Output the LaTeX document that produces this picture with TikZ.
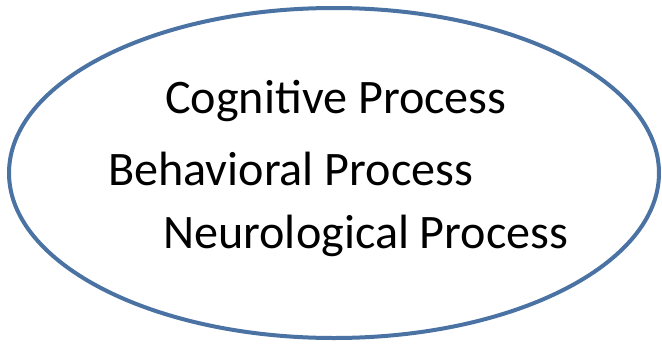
\documentclass[tikz,border=0pt]{standalone}
\usepackage{fontspec}
\setmainfont{Carlito}
\definecolor{ringblue}{RGB}{74,114,163}
\begin{document}
\begin{tikzpicture}[
    x=0.75pt, y=-0.75pt,
    ring/.style={draw=ringblue, line width=3pt},
    proc/.style={inner sep=0pt, anchor=base west, font=\fontsize{36.1}{40}\selectfont}
]
    \useasboundingbox (0,0) rectangle (662,344);

    \draw [ring] (334,173) ellipse [x radius=325, y radius=165];

    \node [proc] (cog) at (165,113) {Cognitive Process};
    \node [proc] (beh) at (108,185) {Behavioral Process};
    \node [proc] (neu) at (163,248) {Neurological Process};

\end{tikzpicture}
\end{document}
